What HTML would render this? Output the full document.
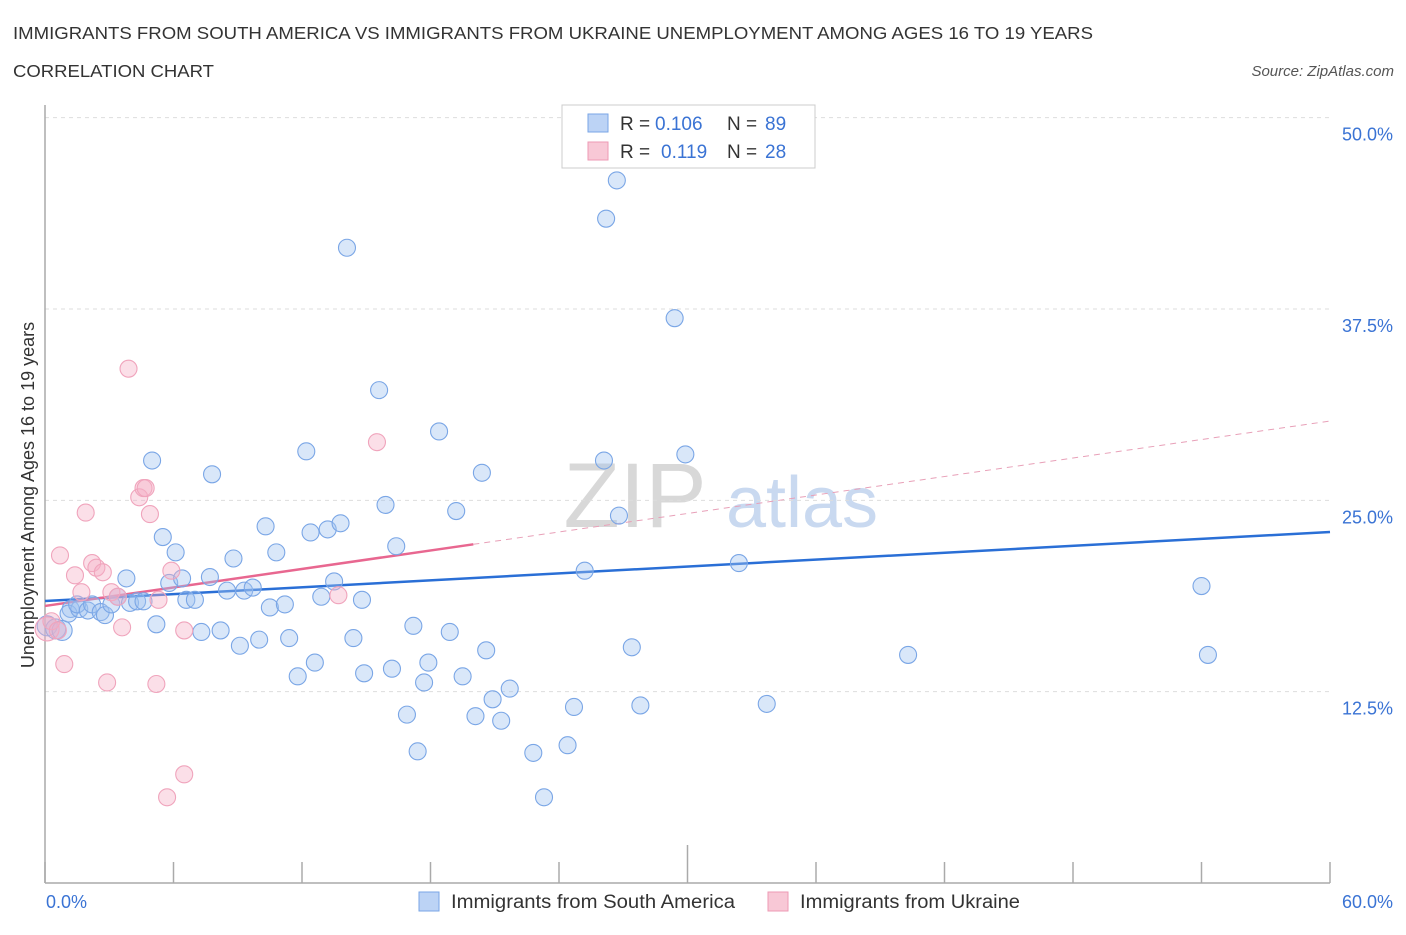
<!DOCTYPE html>
<html><head><meta charset="utf-8"><style>
body{margin:0;background:#fff;font-family:"Liberation Sans",sans-serif;}
svg text{font-family:"Liberation Sans",sans-serif;}
</style></head><body>
<svg id="chart" width="1406" height="930" xmlns="http://www.w3.org/2000/svg">
<text x="13" y="39" font-size="17.5" fill="#333" textLength="1080" lengthAdjust="spacingAndGlyphs">IMMIGRANTS FROM SOUTH AMERICA VS IMMIGRANTS FROM UKRAINE UNEMPLOYMENT AMONG AGES 16 TO 19 YEARS</text>
<text x="13" y="77" font-size="17.5" fill="#333" textLength="201" lengthAdjust="spacingAndGlyphs">CORRELATION CHART</text>
<text x="1394" y="76" font-size="15" fill="#555" font-style="italic" text-anchor="end">Source: ZipAtlas.com</text>
<g>
<text x="635" y="527" font-size="92" fill="#d8d8d8" font-family="Liberation Serif" text-anchor="middle">ZIP</text>
<text x="802" y="527" font-size="72" fill="#c9d9f0" text-anchor="middle">atlas</text>
</g>
<g id="grid"></g>
<g id="axes"></g>
<g id="trends"></g>
<g id="points"></g>
<g>
<rect x="562" y="105" width="253" height="63" fill="#fff" stroke="#ccc"/>
<rect x="588" y="114" width="20" height="18" fill="#bcd3f5" stroke="#7aa6e6"/>
<rect x="588" y="142" width="20" height="18" fill="#f8c8d6" stroke="#ee9ab4"/>
<text x="620" y="130" font-size="19" fill="#333">R =</text>
<text x="655" y="130" font-size="19" fill="#3a73d4">0.106</text>
<text x="727" y="130" font-size="19" fill="#333">N =</text>
<text x="765" y="130" font-size="19" fill="#3a73d4">89</text>
<text x="620" y="158" font-size="19" fill="#333">R =</text>
<text x="661" y="158" font-size="19" fill="#3a73d4">0.119</text>
<text x="727" y="158" font-size="19" fill="#333">N =</text>
<text x="765" y="158" font-size="19" fill="#3a73d4">28</text>
</g>
<g>
<rect x="419" y="892" width="20" height="19" fill="#bcd3f5" stroke="#7aa6e6"/>
<text x="451" y="908" font-size="19" fill="#333" textLength="284" lengthAdjust="spacingAndGlyphs">Immigrants from South America</text>
<rect x="768" y="892" width="20" height="19" fill="#f8c8d6" stroke="#ee9ab4"/>
<text x="800" y="908" font-size="19" fill="#333" textLength="220" lengthAdjust="spacingAndGlyphs">Immigrants from Ukraine</text>
</g>
<text transform="translate(34,495) rotate(-90)" font-size="18" fill="#333" text-anchor="middle">Unemployment Among Ages 16 to 19 years</text>
</svg>
<script>
const yTicks=[12.5,25,37.5,50];
const yTickLabels=["12.5%","25.0%","37.5%","50.0%"];
const xTickLabels=["0.0%","60.0%"];
const blueX=[0.1,0.5,0.8,1.2,1.1,1.6,1.5,2.0,2.2,2.6,2.8,3.1,3.4,3.8,3.970,4.3,4.6,5.0,5.2,5.5,5.8,6.1,6.4,6.6,7.0,7.3,7.7,7.8,8.2,8.5,8.8,9.1,9.3,9.7,10.0,10.3,10.5,10.8,11.2,11.4,11.8,12.2,12.4,12.6,12.9,13.2,13.5,13.8,14.1,14.4,14.8,14.9,15.6,15.9,16.2,16.4,16.9,17.2,17.4,17.7,17.9,18.4,18.9,19.2,19.5,20.1,20.4,20.6,20.9,21.3,21.7,22.8,23.3,24.4,24.7,25.2,26.1,26.2,26.7,26.8,27.4,27.8,29.4,29.9,32.4,33.7,40.3,54.0,54.3];
const blueY=[16.8,16.6,16.5,17.9,17.6,17.9,18.2,17.8,18.2,17.7,17.5,18.2,18.7,19.9,18.3,18.4,18.4,27.6,16.9,22.6,19.6,21.6,19.9,18.5,18.5,16.4,19.99,26.7,16.5,19.1,21.2,15.5,19.1,19.3,15.9,23.3,18.0,21.6,18.2,16.0,13.5,28.2,22.9,14.4,18.7,23.1,19.7,23.5,41.5,16.0,18.5,13.7,32.2,24.7,14.0,22.0,11.0,16.8,8.6,13.1,14.4,29.5,16.4,24.3,13.5,10.9,26.8,15.2,12.0,10.6,12.7,8.5,5.6,9.0,11.5,20.4,27.6,43.4,45.9,24.0,15.4,11.6,36.9,28.0,20.9,11.7,14.9,19.4,14.9];
const pinkX=[0.1,0.3,0.6,0.7,0.9,1.4,1.7,1.9,2.2,2.4,2.7,2.9,3.1,3.4,3.6,3.9,4.4,4.6,4.9,5.2,5.3,5.7,5.9,6.5,6.5,13.7,15.5,4.7];
const pinkY=[16.6,17.1,16.5,21.4,14.3,20.1,19.0,24.2,20.9,20.6,20.3,13.1,19.0,18.7,16.7,33.6,25.2,25.8,24.1,13.0,18.5,5.6,20.4,16.5,7.1,18.8,28.8,25.8];
const blueTrend=[18.42,22.93];
const pinkTrend=[18.1,30.18];
const NS="http://www.w3.org/2000/svg";
const X0=45,X1=1330,Y0=883,PPY=15.307;
const sx=v=>X0+(X1-X0)*v/60;
const sy=v=>Y0-v*PPY;
function mk(tag,attrs,parent){const e=document.createElementNS(NS,tag);for(const k in attrs)e.setAttribute(k,attrs[k]);document.getElementById(parent).appendChild(e);return e;}
yTicks.forEach((t,i)=>{
 const l=mk('line',{x1:X0,x2:X1,y1:sy(t),y2:sy(t),stroke:'#ddd','stroke-dasharray':'4,4'},'grid');
 
 
 const tx=mk('text',{x:1393,y:sy(t)+23,'font-size':18,fill:'#3a73d4','text-anchor':'end'},'grid');
 tx.textContent=yTickLabels[i];
 
 
});
const ya=mk('line',{x1:X0,x2:X0,y1:105,y2:Y0,stroke:'#aaa','stroke-width':1.5},'axes');


const xa=mk('line',{x1:X0,x2:X1,y1:Y0,y2:Y0,stroke:'#aaa','stroke-width':1.5},'axes');


for(let i=0;i<=10;i++){
 const x=sx(i*6);
 const tk=mk('line',{x1:x,x2:x,y1:i==5?845:862,y2:Y0,stroke:'#aaa','stroke-width':1.5},'axes');
 
 
}
[[0,'start',46],[1,'end',1393]].forEach(([i,a,x])=>{
 const t=mk('text',{x:x,y:908,'font-size':18,fill:'#3a73d4','text-anchor':a},'axes');
 t.textContent=xTickLabels[i];
 
 
});
blueX.forEach((x,i)=>{
 const c=mk('circle',{cx:sx(x),cy:sy(blueY[i]),r:i<3?10:8.5,fill:'rgba(160,195,240,0.4)',stroke:'#7aa6e6','stroke-width':1.1},'points');
 
 
});
pinkX.forEach((x,i)=>{
 const c=mk('circle',{cx:sx(x),cy:sy(pinkY[i]),r:i==0?12:8.5,fill:'rgba(245,175,198,0.4)',stroke:'#f0a4bc','stroke-width':1.1},'points');
 
 
});
const bt=mk('line',{x1:sx(0),y1:sy(blueTrend[0]),x2:sx(60),y2:sy(blueTrend[1]),stroke:'#2a6fd6','stroke-width':2.5},'trends');


const pe=pinkTrend[0]+(pinkTrend[1]-pinkTrend[0])*20/60;
const pt=mk('line',{x1:sx(0),y1:sy(pinkTrend[0]),x2:sx(20),y2:sy(pe),stroke:'#e86790','stroke-width':2.5},'trends');


const pd=mk('line',{x1:sx(20),y1:sy(pe),x2:sx(60),y2:sy(pinkTrend[1]),stroke:'#e8a0b8','stroke-width':1,'stroke-dasharray':'6,5'},'trends');


</script>
</body></html>
